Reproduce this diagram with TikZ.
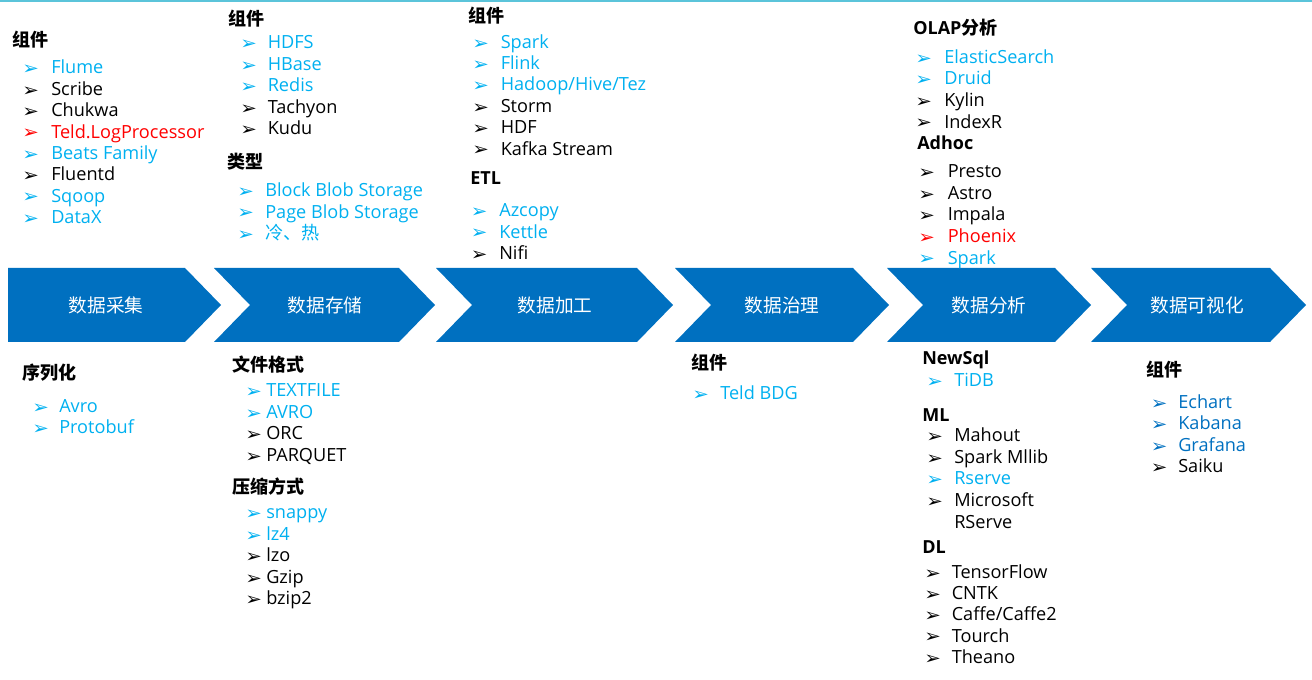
\documentclass[tikz,border=0pt]{standalone}
\usepackage{fontspec}
\usepackage{graphicx}
\setmainfont{Open Sans}
\newfontfamily\cjk{Noto Sans CJK SC}
\newfontfamily\sym{DejaVu Sans}
\definecolor{cy}{HTML}{00B0F0}
\definecolor{db}{HTML}{0070C0}
\definecolor{rd}{HTML}{FF0000}
\definecolor{topline}{HTML}{5BC4DA}
\begin{document}
\begin{tikzpicture}[x=0.75pt, y=-0.75pt,
    stage/.style={fill=db},
    stagelabel/.style={text=white, font=\cjk\fontsize{14}{16}\selectfont},
    head/.style={anchor=base west, inner sep=0pt, font=\fontsize{13.5}{16}\selectfont\bfseries},
    bul/.style={anchor=base west, inner sep=0pt, font=\sym\bfseries\fontsize{13.5}{15}\selectfont},
    item/.style={anchor=base west, inner sep=0pt, font=\fontsize{13.6}{15}\selectfont}
  ]
  \useasboundingbox (0,0) rectangle (1312,680);
  \draw[topline, line width=1.2pt] (0,1) -- (1312,1);
  \def\arr{\raisebox{-0.6pt}{\scalebox{1.1}[1]{➢}}}

  % stages
  \fill[stage] (8,268) -- (185,268) -- (221,305) -- (185,342) -- (8,342) -- cycle;
  \node[stagelabel] (collect) at (106,305) {数据采集};
  \foreach \l/\r/\m/\lab/\nm in {214/435/325/数据存储/store, 436/673/555/数据加工/process,
      675/889/782/数据治理/govern, 887/1091/989/数据分析/analyse, 1091/1306/1197/数据可视化/visual}{
    \fill[stage] (\l,268) -- (\r-36,268) -- (\r,305) -- (\r-36,342) -- (\l,342) -- (\l+36,305) -- cycle;
    \node[stagelabel] (\nm) at (\m,305) {\lab};}

  % collect
  \node[head] (cap-h) at (12,47) {\cjk 组件};
  \foreach \txt/\clr [count=\i from 0] in {Flume/cy, Scribe/black, Chukwa/black, Teld.LogProcessor/rd,
      Beats Family/cy, Fluentd/black, Sqoop/cy, DataX/cy}{
    \node[bul, text=\clr] (cap-b\i) at (22, 74+21.35*\i) {\arr};
    \node[item, text=\clr] (cap-\i) at (51, 74+21.35*\i) {\txt};}
  \node[head] (ser-h) at (22,380) {\cjk 序列化};
  \foreach \txt/\clr [count=\i from 0] in {Avro/cy, Protobuf/cy}{
    \node[bul, text=\clr] (ser-b\i) at (32, 412.5+21.35*\i) {\arr};
    \node[item, text=\clr] (ser-\i) at (59, 412.5+21.35*\i) {\txt};}

  % store
  \node[head] (sto-h) at (228,25.5) {\cjk 组件};
  \foreach \txt/\clr [count=\i from 0] in {HDFS/cy, HBase/cy, Redis/cy, Tachyon/black, Kudu/black}{
    \node[bul, text=\clr] (sto-b\i) at (240, 49+21.5*\i) {\arr};
    \node[item, text=\clr] (sto-\i) at (267.5, 49+21.5*\i) {\txt};}
  \node[head] (typ-h) at (227,169) {\cjk 类型};
  \foreach \txt/\clr [count=\i from 0] in {Block Blob Storage/cy, Page Blob Storage/cy, {\cjk 冷、热}/cy}{
    \node[bul, text=\clr] (typ-b\i) at (237, 196.7+21.5*\i) {\arr};
    \node[item, text=\clr] (typ-\i) at (265, 196.7+21.5*\i) {\txt};}
  \node[head] (fmt-h) at (232,372) {\cjk 文件格式};
  \foreach \txt/\clr [count=\i from 0] in {TEXTFILE/cy, AVRO/cy, ORC/black, PARQUET/black}{
    \node[bul, text=\clr] (fmt-b\i) at (245, 396.7+21.5*\i) {\arr};
    \node[item, text=\clr] (fmt-\i) at (266, 396.7+21.5*\i) {\txt};}
  \node[head] (zip-h) at (232,493) {\cjk 压缩方式};
  \foreach \txt/\clr [count=\i from 0] in {snappy/cy, lz4/cy, lzo/black, Gzip/black, bzip2/black}{
    \node[bul, text=\clr] (zip-b\i) at (245, 518.7+21.5*\i) {\arr};
    \node[item, text=\clr] (zip-\i) at (266, 518.7+21.5*\i) {\txt};}

  % process
  \node[head] (prc-h) at (468,23) {\cjk 组件};
  \foreach \txt/\clr [count=\i from 0] in {Spark/cy, Flink/cy, {Hadoop/Hive/Tez}/cy, Storm/black,
      HDF/black, Kafka Stream/black}{
    \node[bul, text=\clr] (prc-b\i) at (472, 48.3+21.35*\i) {\arr};
    \node[item, text=\clr] (prc-\i) at (500.5, 48.3+21.35*\i) {\txt};}
  \node[head] (etl-h) at (470,185) {ETL};
  \foreach \txt/\clr [count=\i from 0] in {Azcopy/cy, Kettle/cy, Nifi/black}{
    \node[bul, text=\clr] (etl-b\i) at (470.5, 216.7+21.4*\i) {\arr};
    \node[item, text=\clr] (etl-\i) at (499, 216.7+21.4*\i) {\txt};}

  % govern
  \node[head] (gov-h) at (691.5,370) {\cjk 组件};
  \node[bul, text=cy] (gov-b0) at (692,400) {\arr};
  \node[item, text=cy] (gov-0) at (720,400) {Teld BDG};

  % analyse
  \node[head] (olap-h) at (913,35) {OLAP{\cjk 分析}};
  \foreach \txt/\clr [count=\i from 0] in {ElasticSearch/cy, Druid/cy, Kylin/black, IndexR/black}{
    \node[bul, text=\clr] (olap-b\i) at (915, 63.3+21.6*\i) {\arr};
    \node[item, text=\clr] (olap-\i) at (944, 63.3+21.6*\i) {\txt};}
  \node[head] (adh-h) at (917,149.3) {Adhoc};
  \foreach \txt/\clr [count=\i from 0] in {Presto/black, Astro/black, Impala/black, Phoenix/rd, Spark/cy}{
    \node[bul, text=\clr] (adh-b\i) at (918, 177.7+21.6*\i) {\arr};
    \node[item, text=\clr] (adh-\i) at (947.5, 177.7+21.6*\i) {\txt};}
  \node[head] (nsq-h) at (922,365) {NewSql};
  \node[bul, text=cy] (nsq-b0) at (926,386.7) {\arr};
  \node[item, text=cy] (nsq-0) at (954,386.7) {TiDB};
  \node[head] (ml-h) at (922,421.7) {ML};
  \foreach \txt/\clr [count=\i from 0] in {Mahout/black, Spark Mllib/black, Rserve/cy, Microsoft/black}{
    \node[bul, text=\clr] (ml-b\i) at (926, 441.7+21.6*\i) {\arr};
    \node[item, text=\clr] (ml-\i) at (954, 441.7+21.6*\i) {\txt};}
  \node[item] (ml-4) at (954,528.3) {RServe};
  \node[head] (dl-h) at (922,553.3) {DL};
  \foreach \txt/\clr [count=\i from 0] in {TensorFlow/black, CNTK/black, {Caffe/Caffe2}/black,
      Tourch/black, Theano/black}{
    \node[bul, text=\clr] (dl-b\i) at (924, 578.3+21.25*\i) {\arr};
    \node[item, text=\clr] (dl-\i) at (951.5, 578.3+21.25*\i) {\txt};}

  % visual
  \node[head] (vis-h) at (1146,377) {\cjk 组件};
  \foreach \txt/\clr [count=\i from 0] in {Echart/db, Kabana/db, Grafana/db, Saiku/black}{
    \node[bul, text=\clr] (vis-b\i) at (1150.5, 408.3+21.5*\i) {\arr};
    \node[item, text=\clr] (vis-\i) at (1178, 408.3+21.5*\i) {\txt};}
\end{tikzpicture}
\end{document}
